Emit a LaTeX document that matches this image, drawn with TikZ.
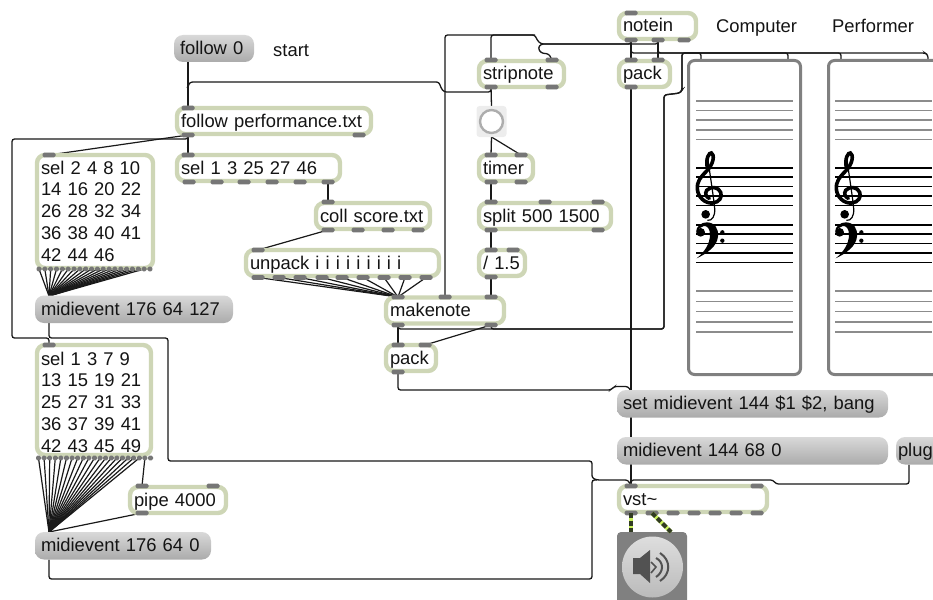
\documentclass[tikz,border=0pt]{standalone}
\usepackage{fontspec}
\setmainfont{Liberation Sans}
\usetikzlibrary{backgrounds}
\definecolor{olive}{RGB}{206,214,182}
\definecolor{portgray}{RGB}{118,118,118}
\definecolor{wirecol}{RGB}{25,25,25}
\definecolor{siglime}{RGB}{200,240,90}
\definecolor{sigdark}{RGB}{50,60,35}
\tikzset{
  x=1pt,y=-1pt,
  txt/.style={font=\fontsize{18.4}{21.75}\selectfont,text=black!92},
  obj/.style={draw=olive,line width=4.4pt,fill=white,rounded corners=8pt,anchor=north west,
    inner xsep=4pt,inner ysep=0pt,outer sep=0pt,minimum height=26pt,text width=#1,align=left,
    text height=15pt,text depth=3pt,txt},
  msg/.style={top color=black!15,bottom color=black!33,rounded corners=9pt,anchor=north west,
    inner xsep=6pt,inner ysep=0pt,outer sep=0pt,minimum height=27.5pt,text width=#1,align=left,
    text height=15pt,text depth=3pt,txt},
  port/.style={fill=portgray,rounded corners=1.5pt,minimum width=13pt,minimum height=4.6pt,inner sep=0pt,outer sep=0pt},
  tinyport/.style={port,minimum width=5pt},
  wire/.style={draw=wirecol,line width=1.3pt,rounded corners=2.5pt},
  fan/.style={draw=wirecol,line width=1.2pt},
  sig/.style={line width=4pt,draw=siglime,postaction={draw=sigdark,dash pattern=on 5pt off 2.5pt}},
  tag/.style={anchor=base west,inner sep=0pt,txt},
  staffbox/.style={draw=black!50,line width=3pt,fill=white,rounded corners=6pt,anchor=north west,
    minimum width=112pt,minimum height=314pt,inner sep=0pt,outer sep=0pt},
  pics/staff/.style={code={
    \foreach \y in {101,110.5,120,130,139.5,291,301.5,311.5,322,332}
      \draw[black!45,line width=1.2pt] (0,\y) -- (97,\y);
    \foreach \y in {168,177,186.5,196,205.5,225,234,243.5,253,262.5}
      \draw[black,line width=1.2pt] (0,\y) -- (97,\y);
    \begin{scope}[shift={(-6,145)},scale=1/3]
      \draw[black,line width=3.6pt,line cap=round] (52,68) .. controls (46,40) and (58,22) .. (64,24)
        .. controls (74,28) and (72,56) .. (50,78) .. controls (30,98) and (20,112) .. (22,132)
        .. controls (24,158) and (46,176) .. (68,174) .. controls (88,172) and (98,156) .. (92,142)
        .. controls (86,126) and (62,122) .. (50,136) .. controls (44,146) and (48,156) .. (58,160);
      \draw[black,line width=1.2pt] (54,44) .. controls (60,90) and (70,150) .. (74,190)
        .. controls (76,214) and (66,228) .. (52,226);
      \fill[black] (47,208) circle (13);
      \fill[black] (32,262) circle (13);
      \fill[black] (18,262) .. controls (18,244) and (34,232) .. (50,232)
        .. controls (74,232) and (86,250) .. (84,274) .. controls (82,304) and (50,326) .. (20,340)
        .. controls (42,322) and (60,298) .. (60,268) .. controls (60,250) and (50,242) .. (42,243)
        .. controls (32,244) and (26,252) .. cycle;
      \fill[black] (97,262) circle (6.5);
      \fill[black] (97,287) circle (6.5);
    \end{scope}
  }},
}
\begin{document}
\begin{tikzpicture}
  \useasboundingbox (0,0) rectangle (933,599);
  \clip (0,0) rectangle (933,599);

  \node[msg=68,minimum height=27pt] (start) at (174,35) {follow 0};
  \node[tag] (starttext) at (273,57) {start};
  \node[obj=186] (perf) at (177,108) {follow performance.txt};
  \node[obj=155] (selb) at (177,155) {sel 1 3 25 27 46};
  \node[obj=106] (coll) at (316,203) {coll score.txt};
  \node[obj=185] (unp) at (246,250) {unpack i i i i i i i i i};
  \node[obj=108,text height=19pt,text depth=94pt] (sela) at (37,155) {sel 2 4 8 10\\14 16 20 22\\26 28 32 34\\36 38 40 41\\42 44 46};
  \node[msg=186] (mida) at (35,295.5) {midievent 176 64 127};
  \node[obj=106,text height=20pt,text depth=90pt] (selc) at (37,345) {sel 1 3 7 9\\13 15 19 21\\25 27 31 33\\36 37 39 41\\42 43 45 49};
  \node[obj=88] (pipe) at (130,487) {pipe 4000};
  \node[msg=164] (midc) at (35,532) {midievent 176 64 0};

  \node[obj=77] (strip) at (479,61) {stripnote};
  \node[fill=black!7,rounded corners=3pt,minimum width=30pt,minimum height=31pt,inner sep=0pt,outer sep=0pt] (bang) at (491.5,121.5) {};
  \node[circle,draw=black!32,line width=2.4pt,fill=white,minimum size=23pt,inner sep=0pt] (bangc) at (bang.center) {};
  \node[obj=46] (tim) at (479,155) {timer};
  \node[obj=124] (spl) at (479,203) {split 500 1500};
  \node[obj=38] (div) at (479,250) {/ 1.5};
  \node[obj=110] (mk) at (386,297.5) {makenote};
  \node[obj=42] (packb) at (386,345) {pack};
  \node[obj=69] (note) at (619,13) {notein};
  \node[obj=43] (packa) at (619,61) {pack};
  \node[tag] (comp) at (716,33) {Computer};
  \node[tag] (perfm) at (832,33) {Performer};
  \node[staffbox] (staffa) at (688.5,60.5) {};
  \node[staffbox] (staffb) at (828.5,60.5) {};
  \pic at (696,0) {staff};
  \pic at (835,0) {staff};

  \node[msg=259] (setm) at (617,390) {set midievent 144 \$1 \$2, bang};
  \node[msg=259] (midb) at (617,437) {midievent 144 68 0};
  \node[msg=60,inner xsep=2pt] (plug) at (896,437) {plug};
  \node[obj=140] (vst) at (619,486) {vst\char`~};
  \node[fill=black!50,rounded corners=4pt,anchor=north west,minimum width=70pt,minimum height=80pt,inner sep=0pt,outer sep=0pt] (dac) at (617,532) {};
  \node[circle,top color=black!13,bottom color=black!27,minimum size=61pt,inner sep=0pt] (dacc) at (652.5,567) {};
  \fill[black!68] (633,558) -- (640,558) -- (650,550) -- (650,583) -- (640,574) -- (633,574) -- cycle;
  \draw[black!68,line width=1.6pt] (651,562) -- (656,567) -- (651,573);
  \draw[black!68,line width=2pt] (656,558) .. controls (664,562) and (664,572) .. (656,577);
  \draw[black!68,line width=2pt] (660,553) .. controls (671,560) and (671,574) .. (660,581);

  \foreach \n/\x/\y in {perf-i1/188/108,perf-o1/188/135,perf-o2/359/135,
      selb-i1/188/155,selb-o1/189/182,selb-o2/217/182,selb-o3/244/182,selb-o4/272/182,selb-o5/300/182,selb-o6/328/182,
      coll-i1/328/202,coll-o1/328/230,coll-o2/358/230,coll-o3/388/230,coll-o4/418/230,
      unp-i1/258/250,sela-i1/49/155,selc-i1/49/345,
      pipe-i1/142/486,pipe-i2/213/486,pipe-o1/142/513,
      strip-i1/491/60,strip-i2/552/60,strip-o1/491/87,strip-o2/552/87,
      tim-i1/491/155,tim-i2/521/155,tim-o1/491/182,tim-o2/521/182,
      spl-i1/491/202,spl-i2/545/202,spl-i3/598/202,spl-o1/491/230,spl-o2/598/230,
      div-i1/491/250,div-i2/513/250,div-o1/491/277,
      mk-i1/398/297,mk-i2/445/297,mk-i3/491/297,mk-o1/398/325,mk-o2/491/325,
      packb-i1/398/345,packb-i2/425/345,packb-o1/398/372,
      note-i1/631/13,note-o1/631/40,note-o2/658/40,note-o3/684/40,
      packa-i1/631/60,packa-i2/658/60,packa-o1/631/87,
      vst-i1/631/486,vst-i2/757/486,vst-o1/631/513,vst-o2/652/513,vst-o3/673/513,vst-o4/694/513,vst-o5/715/513,vst-o6/736/513,vst-o7/757/513}
    \node[port] (\n) at (\x,\y) {};
  \foreach \x [count=\i] in {258,279,300,322,342,363,384,405,426}
    \node[port] (unp-o\i) at (\x,277.5) {};
  \foreach \i in {1,...,20}{
    \pgfmathsetmacro\x{39+(\i-1)*5.84}
    \node[tinyport] (sela-o\i) at (\x,269) {};
  }
  \foreach \i in {1,...,21}{
    \pgfmathsetmacro\x{38.5+(\i-1)*5.6}
    \node[tinyport] (selc-o\i) at (\x,458) {};
  }
  \coordinate (mida-in) at (49,296);
  \coordinate (midc-in) at (49,532);
  \coordinate (setm-in) at (631,391);
  \coordinate (staffa-i1) at (701,60);
  \coordinate (staffa-i2) at (788,60);
  \coordinate (staffb-i1) at (841,60);
  \coordinate (staffb-i2) at (928,60);
  \coordinate (dac-i1) at (631,532);
  \coordinate (dac-i2) at (671,532);

  \begin{scope}[on background layer]
    \draw[wire] (start.south west -| perf-i1) -- (perf-i1.center);
    \draw[wire] (perf-o1.center) -- (selb-i1.center);
    \draw[fan] (perf-o1.center) -- (sela-i1.center);
    \draw[wire] (perf-o1.center) -- (188,139) -- (12,139) -- (12,338) -- (49,338) -- (selc-i1.center);
    \draw[wire] (strip-o1.center) -- (491,92) -- (444,92) -- (441,88) -- (439,82) -- (190,82) -- (188,86) -- (perf-i1.center);
    \draw[wire] (selb-o6.center) -- (coll-i1.center);
    \draw[fan] (coll-o1.center) -- (unp-i1.center);
    \foreach \i in {1,...,9} \draw[fan] (unp-o\i.center) -- (mk-i1.center);
    \foreach \i in {1,...,19} \draw[fan] (sela-o\i.center) -- (mida-in);
    \foreach \i in {1,...,19} \draw[fan] (selc-o\i.center) -- (midc-in);
    \draw[fan] (selc-o20.center) -- (pipe-i1.center);
    \draw[fan] (pipe-o1.center) -- (midc-in);
    \draw[wire] (mida-in) -- (49,338) -- (168,338) -- (168,461) -- (592,461) -- (592,478) -- (597,480) -- (628,480) -- (vst-i1.center);
    \draw[wire] (midc-in |- midc.south) -- (49,579) -- (592,579) -- (592,480) -- (597,480);
    \draw[wire] (plug.south -| 909,0) -- (909,484) -- (776,484) -- (773,480) -- (631,480) -- (vst-i1.center);
    \draw[wire] (packa-o1.center) -- (setm-in) -- (631,437) -- (vst-i1.center);
    \draw[wire] (packb-o1.center) -- (398,390) -- (611,390) -- (614,386.5) -- (628,386.5) -- (setm-in);
    \draw[wire] (mk-o1.center) -- (packb-i1.center);
    \draw[fan] (mk-o2.center) -- (packb-i2.center);
    \draw[wire] (mk-o1.center) -- (398,329) -- (664,329) -- (664,95) -- (680,93) -- (682,90) -- (682,53) -- (701,53) -- (staffa-i1);
    \draw[wire] (mk-o2.center) -- (491,329) -- (664,329) -- (664,95) -- (680,93) -- (682,90) -- (682,53) -- (788,53) -- (staffa-i2);
    \draw[wire] (note-o1.center) -- (packa-i1.center);
    \draw[wire] (note-o2.center) -- (packa-i2.center);
    \draw[wire] (note-o1.center) -- (631,53) -- (841,53) -- (staffb-i1);
    \draw[wire] (note-o2.center) -- (658,53) -- (925,53) -- (928,55) -- (staffb-i2);
    \draw[wire] (note-o1.center) -- (631,44) -- (541,44) -- (537,40) -- (535,35) -- (491,35) -- (strip-i1.center);
    \draw[wire] (note-o2.center) -- (658,44) -- (541,44) -- (538,48) -- (541,53) -- (549,54) -- (strip-i2.center);
    \draw[wire] (535,35) -- (445,35) -- (mk-i2.center);
    \draw[wire] (strip-o1.center) -- (bang.north);
    \draw[wire] (bang.south) -- (tim-i1.center);
    \draw[fan] (bang.south) -- (tim-i2.center);
    \draw[wire] (tim-o1.center) -- (spl-i1.center);
    \draw[wire] (spl-o1.center) -- (div-i1.center);
    \draw[wire] (div-o1.center) -- (mk-i1.center -| div-o1);
  \end{scope}
  \draw[sig] (vst-o1.center) -- (dac-i1);
  \draw[sig] (vst-o2.center) -- (dac-i2);
\end{tikzpicture}
\end{document}
